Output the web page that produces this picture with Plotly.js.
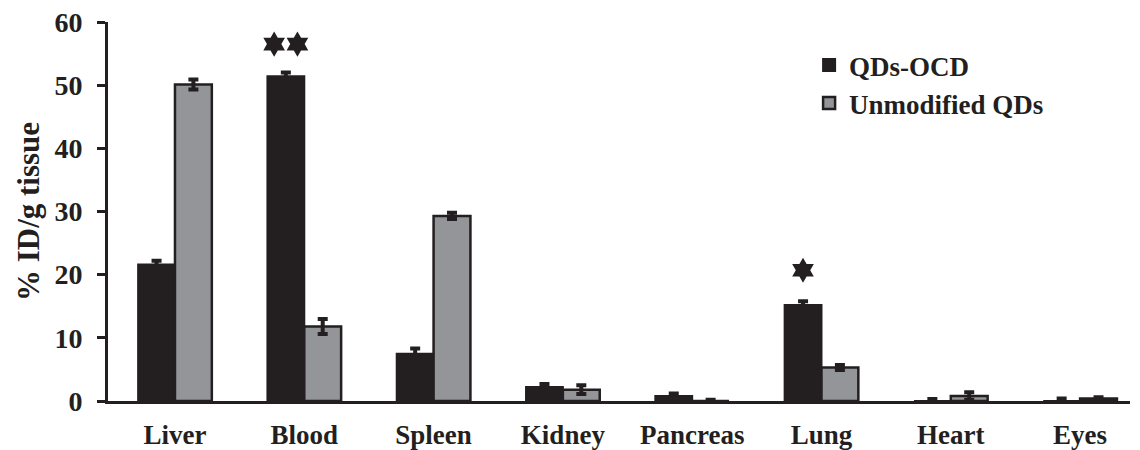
<!DOCTYPE html>
<html><head><meta charset="utf-8">
<script src="https://cdn.plot.ly/plotly-3.0.1.min.js"></script>
<style>body{margin:0;background:#fff}#chart{width:1140px;height:450px}</style>
</head><body><div id="chart"></div>
<script>
const categories = ['Liver','Blood','Spleen','Kidney','Pancreas','Lung','Heart','Eyes'];
const qdsOcd = [21.6, 51.4, 7.5, 2.2, 0.8, 15.2, 0.0, 0.0];
const qdsOcdErr = [0.6, 0.6, 0.8, 0.5, 0.4, 0.6, 0.3, 0.4];
const unmodified = [50.1, 11.8, 29.3, 1.8, 0.0, 5.3, 0.8, 0.4];
const unmodifiedErr = [0.8, 1.2, 0.5, 0.7, 0.2, 0.4, 0.6, 0.2];
const yTicks = [0, 10, 20, 30, 40, 50, 60];
// significance stars: category, value, count
const starCategories = ['Blood', 'Lung'];
const starValues = [56.5, 20.7];
const starCounts = [2, 1];

const F = {family: 'Liberation Serif, Times New Roman, serif', weight: 'bold', color: '#231f20'};
const BLACK = '#231f20', GREY = '#939598';

// star positions on a numeric overlay axis aligned with categories
const barHalf = 0.143;
const sx = [], sy = [];
starCategories.forEach((c, i) => {
  const idx = categories.indexOf(c) - barHalf;
  const n = starCounts[i];
  for (let k = 0; k < n; k++) {
    sx.push(idx + (k - (n - 1) / 2) * 0.18);
    sy.push(starValues[i]);
  }
});

const traces = [
  {type: 'bar', name: 'QDs-OCD', x: categories, y: qdsOcd,
   marker: {color: BLACK, line: {color: BLACK, width: 2}},
   error_y: {type: 'data', array: qdsOcdErr, visible: true, color: BLACK, thickness: 4, width: 5},
   cliponaxis: false},
  {type: 'bar', name: 'Unmodified QDs', x: categories, y: unmodified,
   marker: {color: GREY, line: {color: BLACK, width: 2.5}},
   error_y: {type: 'data', array: unmodifiedErr, visible: true, color: BLACK, thickness: 4, width: 5},
   cliponaxis: false},
  {type: 'scatter', mode: 'markers', x: sx, y: sy, xaxis: 'x2', showlegend: false,
   marker: {symbol: 'hexagram', size: 19, color: BLACK}, cliponaxis: false, hoverinfo: 'skip'}
];

const layout = {
  width: 1140, height: 450,
  margin: {l: 108, r: 10, t: 22, b: 49},
  paper_bgcolor: '#fff', plot_bgcolor: '#fff',
  font: F,
  barmode: 'group', bargap: 0.43, bargroupgap: 0,
  showlegend: true,
  legend: {x: 0.686, y: 0.95, xanchor: 'left', yanchor: 'top', font: Object.assign({}, F, {size: 27}),
           bgcolor: 'rgba(0,0,0,0)', tracegroupgap: 17, itemwidth: 30},
  xaxis: {type: 'category', range: [-0.518, 7.386], showline: true, linecolor: BLACK, linewidth: 3,
          ticks: '', showgrid: false, zeroline: false, tickfont: Object.assign({}, F, {size: 27}),
          ticklabelstandoff: 8},
  xaxis2: {overlaying: 'x', range: [-0.518, 7.386], visible: false, showgrid: false, zeroline: false},
  yaxis: {range: [0, 60], tickvals: yTicks, ticks: 'outside', ticklen: 8, tickwidth: 3, tickcolor: BLACK,
          showline: true, linecolor: BLACK, linewidth: 3, showgrid: false, zeroline: false,
          tickfont: Object.assign({}, F, {size: 28}), ticklabelstandoff: 9,
          title: {text: '% ID/g tissue', font: Object.assign({}, F, {size: 31}), standoff: 6}}
};

Plotly.newPlot('chart', traces, layout, {displayModeBar: false, staticPlot: true});
</script>
</body></html>
